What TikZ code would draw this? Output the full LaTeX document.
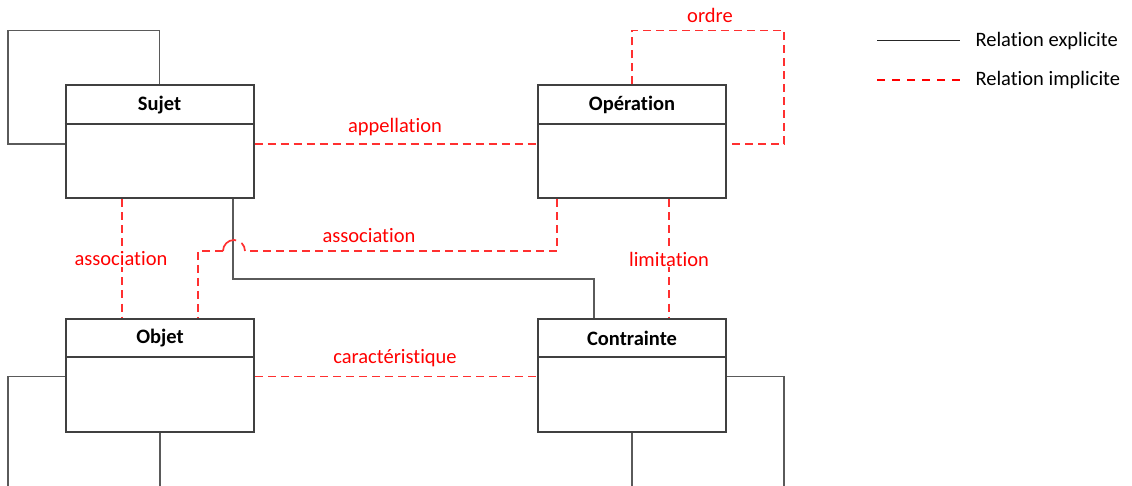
\documentclass[tikz,border=0pt]{standalone}
\usepackage{fontspec}
\setmainfont{Carlito}[Ligatures={NoCommon}]
\usetikzlibrary{calc}
\definecolor{boxline}{HTML}{404040}
\definecolor{expline}{HTML}{5A5A5A}
\definecolor{impline}{HTML}{FF3030}
\definecolor{implabel}{HTML}{FF0000}
\begin{document}
\begin{tikzpicture}[x=1pt,y=-1pt,
  entity/.style={draw=boxline,line width=2pt,fill=white,minimum width=188pt,minimum height=113pt,inner sep=0pt},
  title/.style={font=\fontsize{20.5}{24}\selectfont\bfseries,text=black},
  divider/.style={draw=boxline,line width=2pt},
  expl/.style={draw=expline,line width=1.4pt},
  impl/.style={draw=impline,line width=1.7pt,dash pattern=on 8pt off 5pt},
  rellabel/.style={font=\fontsize{20.5}{24}\selectfont,text=implabel},
  legtext/.style={font=\fontsize{20.5}{24}\selectfont,text=black,anchor=west}]
\useasboundingbox (0,0) rectangle (1132,486);
\clip (0,0) rectangle (1132,486);

% entity boxes
\node[entity] (sujet) at (159.5,142) {};
\node[entity] (oper) at (632,142) {};
\node[entity] (objet) at (160,375.5) {};
\node[entity] (contr) at (632,375.5) {};

% header dividers and titles
\draw[divider] (sujet.west |- 0,124.5) -- (sujet.east |- 0,124.5);
\draw[divider] (oper.west |- 0,124.5) -- (oper.east |- 0,124.5);
\draw[divider] (objet.west |- 0,357) -- (objet.east |- 0,357);
\draw[divider] (contr.west |- 0,357) -- (contr.east |- 0,357);
\node[title] (sujet-t) at (159.5,105) {Sujet};
\node[title] (oper-t) at (632,105) {Opération};
\node[title] (objet-t) at (160,338) {Objet};
\node[title] (contr-t) at (632,338) {Contrainte};

% helper points on the box borders
\coordinate (sujR) at ([yshift=-2pt]sujet.east);
\coordinate (sujL) at ([yshift=-2pt]sujet.west);
\coordinate (opL) at ([yshift=-2pt]oper.west);
\coordinate (opR) at ([yshift=-2pt]oper.east);
\coordinate (sujB1) at ([xshift=-37.5pt]sujet.south);
\coordinate (sujB2) at ([xshift=73.5pt]sujet.south);
\coordinate (opB1) at ([xshift=-75pt]oper.south);
\coordinate (opB2) at ([xshift=37pt]oper.south);
\coordinate (objT1) at ([xshift=-38pt]objet.north);
\coordinate (objT2) at ([xshift=38pt]objet.north);
\coordinate (objR) at ([yshift=-1pt]objet.east);
\coordinate (objL) at ([yshift=-1pt]objet.west);
\coordinate (coT1) at ([xshift=-38pt]contr.north);
\coordinate (coT2) at ([xshift=37pt]contr.north);
\coordinate (coL) at ([yshift=-1pt]contr.west);
\coordinate (coR) at ([yshift=-1pt]contr.east);
\coordinate (loopTop) at (8,30.5);
\coordinate (loopTopR) at (784,30.5);
\coordinate (rowA) at (0,251);
\coordinate (rowB) at (0,279);

% self relations
\draw[expl] (sujet.north) |- (loopTop) |- (sujL);
\draw[expl] (objL) -| (8,520) -| (objet.south);
\draw[expl] (coR) -| (784,520) -| (contr.south);
\draw[impl] (oper.north) |- (loopTopR) |- (opR);
\node[rellabel] (lab-ordre) at (710,15) {ordre};

% explicit relation Sujet -- Contrainte
\draw[expl] (sujB2) -- (sujB2 |- rowB) -| (coT1);

% implicit relations
\draw[impl] (sujR) -- (opL);
\node[rellabel] (lab-app) at (395,127) {appellation};
\draw[impl] (sujB1) -- (objT1);
\node[rellabel,fill=white,inner sep=1pt] (lab-as1) at (121,259) {association};
\draw[impl] (opB2) -- (coT2);
\node[rellabel,fill=white,inner sep=1pt] (lab-lim) at (669,259) {limitation};
\draw[impl] (objR) -- (coL);
\node[rellabel] (lab-car) at (395,358) {caractéristique};
% association from Opération to Objet, hopping over the explicit line
\coordinate (hopR) at ($(sujB2 |- rowA)+(12,0)$);
\coordinate (hopL) at ($(sujB2 |- rowA)+(-10,0)$);
\draw[impl] (opB1) -- (opB1 |- rowA) -- (hopR);
\draw[impl,dash pattern=on 9pt off 6pt on 20pt]
  (hopR) arc[start angle=0,end angle=180,radius=11pt];
\draw[impl] (hopL) -- (objT2 |- rowA) -- (objT2);
\node[rellabel] (lab-as2) at (369,236) {association};

% legend
\coordinate (legA1) at (877,40.5);
\coordinate (legA2) at (960,40.5);
\coordinate (legB1) at (877,80);
\coordinate (legB2) at (960,80);
\draw[draw=black!85,line width=1.3pt] (legA1) -- (legA2);
\draw[draw=red,line width=1.4pt,dash pattern=on 8pt off 7pt] (legB1) -- (legB2);
\node[legtext] (leg-exp) at (972,41) {Relation explicite};
\node[legtext] (leg-imp) at (972,80) {Relation implicite};
\end{tikzpicture}
\end{document}
